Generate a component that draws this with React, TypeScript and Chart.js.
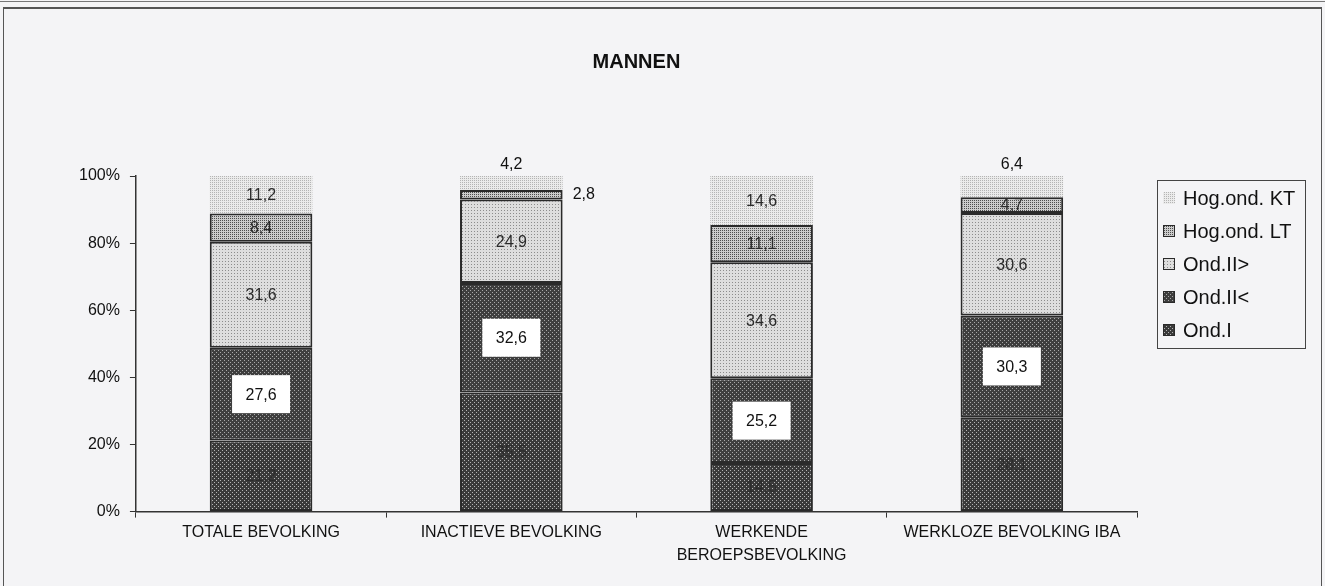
import React, { useEffect, useRef } from "react";
import { Chart, registerables } from "chart.js";

Chart.register(...registerables);

const categories: string[][] = [
  ["TOTALE BEVOLKING"],
  ["INACTIEVE BEVOLKING"],
  ["WERKENDE", "BEROEPSBEVOLKING"],
  ["WERKLOZE BEVOLKING IBA"],
];

const seriesNames = ["Ond.I", "Ond.II<", "Ond.II>", "Hog.ond. LT", "Hog.ond. KT"];

const ondI = [21.2, 35.5, 14.5, 28.1];
const ondIILow = [27.6, 32.6, 25.2, 30.3];
const ondIIHigh = [31.6, 24.9, 34.6, 30.6];
const hogLT = [8.4, 2.8, 11.1, 4.7];
const hogKT = [11.2, 4.2, 14.6, 6.4];

const yTickValues = [0, 20, 40, 60, 80, 100];

const FONT = 'Arial, "Liberation Sans", sans-serif';

function makePattern(size: number, bg: string, fg: string, dots: number[][]) {
  const c = document.createElement("canvas");
  c.width = size;
  c.height = size;
  const ctx = c.getContext("2d")!;
  ctx.fillStyle = bg;
  ctx.fillRect(0, 0, size, size);
  ctx.fillStyle = fg;
  dots.forEach(([x, y]) => ctx.fillRect(x, y, 1, 1));
  const probe = document.createElement("canvas").getContext("2d")!;
  return probe.createPattern(c, "repeat")!;
}

const fmt = (v: number) => v.toFixed(1).replace(".", ",");

const valueLabels = {
  id: "valueLabels",
  afterDatasetsDraw(chart: any) {
    const ctx = chart.ctx as CanvasRenderingContext2D;
    ctx.save();
    ctx.font = `16px ${FONT}`;
    ctx.textBaseline = "middle";
    chart.data.datasets.forEach((ds: any, di: number) => {
      const meta = chart.getDatasetMeta(di);
      meta.data.forEach((el: any, i: number) => {
        const v = ds.data[i] as number;
        const p = el.getProps(["x", "y", "base", "width"], true);
        const top = Math.min(p.y, p.base);
        const bot = Math.max(p.y, p.base);
        const h = bot - top;
        const cy = (top + bot) / 2;
        const txt = fmt(v);
        const style = ds.labelStyle;
        ctx.textAlign = "center";
        if (style === "box") {
          const bw = 58;
          const bh = 38;
          ctx.fillStyle = "#ffffff";
          ctx.fillRect(p.x - bw / 2, cy - bh / 2, bw, bh);
          ctx.fillStyle = "#111111";
          ctx.fillText(txt, p.x, cy + 1);
        } else if (style === "top" && h < 25) {
          ctx.fillStyle = "#111111";
          ctx.fillText(txt, p.x, top - 11);
        } else if (style === "side" && h < 12) {
          ctx.textAlign = "left";
          ctx.fillStyle = "#111111";
          ctx.fillText(txt, p.x + p.width / 2 + 10, cy);
        } else {
          ctx.fillStyle = ds.labelColor || "#222222";
          ctx.fillText(txt, p.x, cy + 1);
        }
      });
    });
    ctx.restore();
  },
};

const boxLegend = {
  id: "boxLegend",
  afterDraw(chart: any) {
    const ca = chart.chartArea;
    const ctx = chart.ctx as CanvasRenderingContext2D;
    const items = chart.data.datasets.slice().reverse();
    ctx.save();
    ctx.font = `20px ${FONT}`;
    ctx.textBaseline = "middle";
    ctx.textAlign = "left";
    const x0 = ca.right + 26;
    const y0 = ca.top + 22;
    const pitch = 33;
    let maxW = 0;
    items.forEach((ds: any, k: number) => {
      const cy = y0 + k * pitch;
      ctx.fillStyle = ds.backgroundColor;
      ctx.fillRect(x0, cy - 6, 12, 12);
      if (ds.borderWidth) {
        ctx.strokeStyle = "#2a2a2a";
        ctx.lineWidth = 1;
        ctx.strokeRect(x0 + 0.5, cy - 5.5, 11, 11);
      }
      ctx.fillStyle = "#111111";
      ctx.fillText(ds.label, x0 + 20, cy + 1);
      maxW = Math.max(maxW, ctx.measureText(ds.label).width);
    });
    const left = x0 - 6;
    const top = y0 - 18;
    const right = x0 + 20 + maxW + 10;
    const bottom = y0 + (items.length - 1) * pitch + 18;
    ctx.strokeStyle = "#444444";
    ctx.lineWidth = 1;
    ctx.strokeRect(Math.round(left) + 0.5, Math.round(top) + 0.5, Math.round(right - left), Math.round(bottom - top));
    ctx.restore();
  },
};

export default function App() {
  const ref = useRef<HTMLCanvasElement | null>(null);

  useEffect(() => {
    if (!ref.current) return;
    const pI = makePattern(4, "#3a3a3a", "#b5b5b5", [[0, 0], [2, 2]]);
    const pIILow = makePattern(4, "#3e3e3e", "#a8a8a8", [[0, 0], [2, 2]]);
    const pIIHigh = makePattern(3, "#dedede", "#8c8c8c", [[0, 0]]);
    const pLT = makePattern(2, "#cccccc", "#4e4e4e", [[0, 0]]);
    const pKT = makePattern(2, "#ebebeb", "#b4b4b4", [[0, 0]]);

    const border = "#2a2a2a";
    const chart = new Chart(ref.current, {
      type: "bar",
      data: {
        labels: categories,
        datasets: [
          { label: seriesNames[0], data: ondI, backgroundColor: pI, borderColor: border, borderWidth: 2, borderSkipped: false, labelStyle: "inside", labelColor: "#2c2c2c" } as any,
          { label: seriesNames[1], data: ondIILow, backgroundColor: pIILow, borderColor: border, borderWidth: 2, borderSkipped: false, labelStyle: "box" } as any,
          { label: seriesNames[2], data: ondIIHigh, backgroundColor: pIIHigh, borderColor: border, borderWidth: 2, borderSkipped: false, labelStyle: "inside", labelColor: "#2a2a2a" } as any,
          { label: seriesNames[3], data: hogLT, backgroundColor: pLT, borderColor: border, borderWidth: 2, borderSkipped: false, labelStyle: "side", labelColor: "#2a2a2a" } as any,
          { label: seriesNames[4], data: hogKT, backgroundColor: pKT, borderColor: "rgba(0,0,0,0)", borderWidth: 0, labelStyle: "top", labelColor: "#2a2a2a" } as any,
        ],
      },
      options: {
        animation: false,
        responsive: true,
        maintainAspectRatio: false,
        layout: { padding: { top: 50, left: 69, right: 188, bottom: 16 } },
        datasets: { bar: { barPercentage: 0.41, categoryPercentage: 1 } },
        plugins: {
          tooltip: { enabled: false },
          legend: { display: false },
          title: {
            display: true,
            fullSize: false,
            text: "MANNEN",
            color: "#111111",
            font: { family: FONT, size: 20, weight: "bold", lineHeight: 1.2 },
            padding: { top: 0, bottom: 102 },
          },
        },
        scales: {
          x: {
            stacked: true,
            grid: { display: true, drawOnChartArea: false, drawTicks: true, tickLength: 6, color: "#333333", offset: true },
            border: { display: true, color: "#333333", width: 1.5 },
            ticks: {
              color: "#111111",
              padding: 3,
              maxRotation: 0,
              autoSkip: false,
              font: { family: FONT, size: 16, lineHeight: 1.45 },
            },
          },
          y: {
            stacked: true,
            min: 0,
            max: 100,
            afterBuildTicks: (axis: any) => {
              axis.ticks = yTickValues.map((v) => ({ value: v }));
            },
            grid: { display: true, drawOnChartArea: false, drawTicks: true, tickLength: 6, color: "#333333" },
            border: { display: true, color: "#333333", width: 1.5 },
            ticks: {
              color: "#111111",
              padding: 10,
              font: { family: FONT, size: 16 },
              callback: (v: any) => `${v}%`,
            },
          },
        },
      } as any,
      plugins: [valueLabels, boxLegend],
    });
    return () => chart.destroy();
  }, []);

  return (
    <div style={{ position: "fixed", left: 0, top: 0, width: 1325, height: 586, background: "#f4f4f6", overflow: "hidden" }}>
      <div style={{ position: "absolute", left: 0, top: 1, width: 1325, height: 0, borderTop: "1px solid #777" }} />
      <div style={{ position: "absolute", left: 3, top: 7, width: 1317, height: 620, border: "1px solid #555", borderTopWidth: 2 }} />
      <div style={{ position: "absolute", left: 0, top: 0, width: 1325, height: 586 }}>
        <canvas ref={ref} />
      </div>
    </div>
  );
}
